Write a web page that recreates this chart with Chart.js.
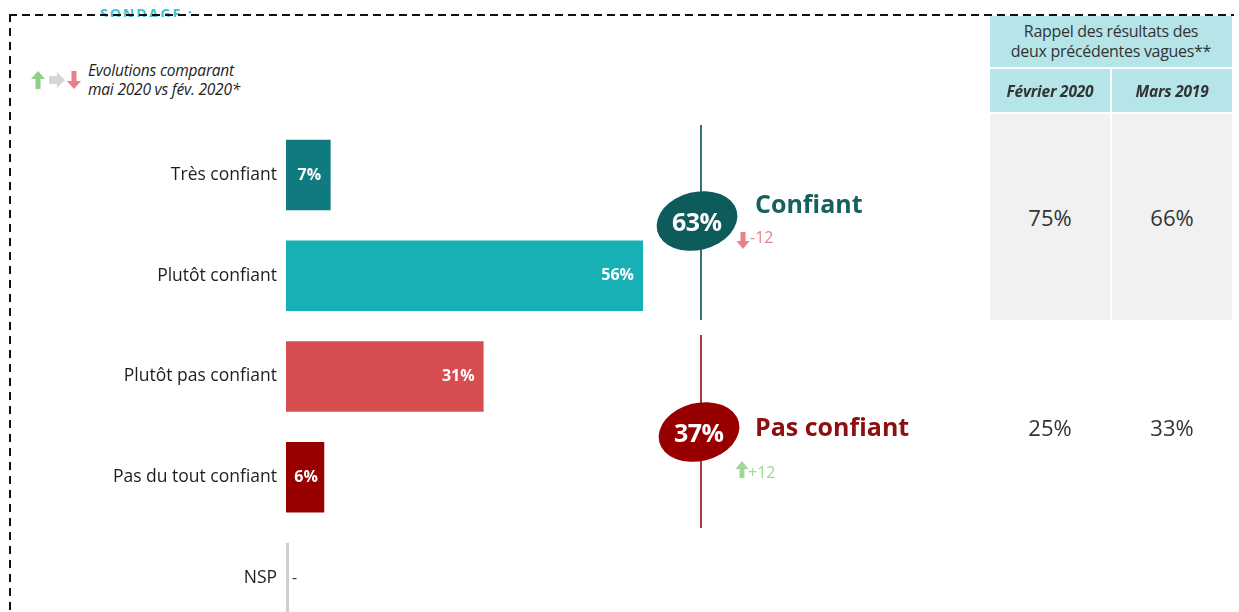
<!DOCTYPE html>
<html lang="fr">
<head>
<meta charset="utf-8">
<script src="https://cdn.jsdelivr.net/npm/chart.js@4.4.0/dist/chart.umd.min.js"></script>
<style>
    html, body { margin: 0; padding: 0; background: #fff; overflow: hidden; }
    body { width: 1239px; height: 612px; position: relative; font-family: 'Open Sans', Arial, sans-serif; color: #222; }
    #contenedor { position: absolute; left: 0; top: 0; width: 1239px; height: 660px; }
    .abs { position: absolute; }
    .borde-top { left: 9px; top: 14px; width: 1225px; height: 2px;
        background: repeating-linear-gradient(90deg, #111 0 8px, transparent 8px 13px); }
    .borde-left { left: 9px; top: 14px; width: 2px; height: 600px;
        background: repeating-linear-gradient(180deg, #111 0 8px, transparent 8px 14px); }
    .leyenda { left: 88px; top: 61px; font-size: 15.5px; font-style: italic; line-height: 19px; color: #1e1e1e; letter-spacing: -0.2px; }
    .linea { width: 2px; left: 700px; }
    .ovalo { width: 82px; height: 58px; border-radius: 50%; transform: rotate(-14deg);
        display: flex; align-items: center; justify-content: center; }
    .ovalo span { transform: rotate(14deg); color: #fff; font-weight: 700; font-size: 25px; letter-spacing: -0.5px; }
    .grupo { font-weight: 700; font-size: 25px; left: 755px; }
    .evol { font-size: 16px; }
    .celda { display: flex; align-items: center; justify-content: center; text-align: center; color: #333; }
    .cab { background: #b5e5e8; }
    .gris { background: #f1f1f1; }
    .num { font-size: 22px; color: #333; }
</style>
</head>
<body>

<!-- ===================== Recuadro punteado ===================== -->
<div class="abs" style="left:100px; top:0; width:120px; height:17px; overflow:hidden;">
    <div style="position:absolute; top:4px; left:0; color:#3cc3cf; font-size:14px; font-weight:700; letter-spacing:2px;">SONDAGE :</div>
</div>
<div class="abs borde-top"></div>
<div class="abs borde-left"></div>

<!-- ===================== Leyenda evoluciones ===================== -->
<svg class="abs" style="left:30px; top:70px;" width="54" height="20" viewBox="0 0 54 20">
    <path d="M8 1 L15 9 L10.5 9 L10.5 19 L5.5 19 L5.5 9 L1 9 Z" fill="#8fcf8a"/>
    <path d="M19 6 L27 6 L27 2 L35 10 L27 18 L27 14 L19 14 Z" fill="#d6d6d6"/>
    <path d="M44 19 L37 11 L41.5 11 L41.5 1 L46.5 1 L46.5 11 L51 11 Z" fill="#e98089"/>
</svg>
<div class="abs leyenda">Evolutions comparant<br>mai 2020 vs fév. 2020*</div>

<!-- ===================== Gráfico de barras ===================== -->
<div id="contenedor"><canvas id="graficoConfianza" width="1239" height="660"></canvas></div>

<!-- ===================== Totales agrupados ===================== -->
<div class="abs linea" style="top:125px; height:195px; background:#2f7777;"></div>
<div class="abs linea" style="top:335px; height:193px; background:#a83a3a;"></div>

<div class="abs ovalo" style="left:656px; top:192px; background:#0e5b5c;"><span id="totalConfiant"></span></div>
<div class="abs grupo" style="top:186px; color:#17605f;">Confiant</div>
<svg class="abs" style="left:736px; top:231px;" width="14" height="19" viewBox="0 0 14 19">
    <path d="M7 18 L0.5 10 L4.5 10 L4.5 1 L9.5 1 L9.5 10 L13.5 10 Z" fill="#e98089"/>
</svg>
<div class="abs evol" id="evolConfiant" style="left:750px; top:226px; color:#e98089;"></div>

<div class="abs ovalo" style="left:658px; top:403px; background:#980000;"><span id="totalPasConfiant"></span></div>
<div class="abs grupo" style="top:409px; color:#8e0f0f;">Pas confiant</div>
<svg class="abs" style="left:735px; top:460px;" width="14" height="19" viewBox="0 0 14 19">
    <path d="M7 1 L13.5 9 L9.5 9 L9.5 18 L4.5 18 L4.5 9 L0.5 9 Z" fill="#9fd69a"/>
</svg>
<div class="abs evol" id="evolPasConfiant" style="left:748px; top:461px; color:#9fd69a;"></div>

<!-- ===================== Tabla de vagas anteriores ===================== -->
<div class="abs celda cab" style="left:990px; top:16px; width:242px; height:49px; padding-bottom:2px; font-size:16px; line-height:20px; letter-spacing:-0.3px;">Rappel des résultats des<br>deux précédentes vagues**</div>
<div class="abs celda cab" id="vague1" style="left:990px; top:69px; width:120px; height:43px; font-size:15.5px; font-weight:700; font-style:italic; letter-spacing:-0.2px;"></div>
<div class="abs celda cab" id="vague2" style="left:1112px; top:69px; width:120px; height:43px; font-size:15.5px; font-weight:700; font-style:italic; letter-spacing:-0.2px;"></div>
<div class="abs celda gris num" id="v1c" style="left:990px; top:114px; width:120px; height:206px;"></div>
<div class="abs celda gris num" id="v2c" style="left:1112px; top:114px; width:120px; height:206px;"></div>
<div class="abs celda num" id="v1p" style="left:990px; top:400px; width:120px; height:54px;"></div>
<div class="abs celda num" id="v2p" style="left:1112px; top:400px; width:120px; height:54px;"></div>

<script>
// ===================================== Datos ==================
var categorias = ["Très confiant", "Plutôt confiant", "Plutôt pas confiant", "Pas du tout confiant", "NSP"];
var valores = [7, 56, 31, 6, 0];
var colores = ["#0f7b80", "#17b0b5", "#d84d50", "#980000", "#cfcfcf"];

var totales = [63, 37];
var evoluciones = ["-12", "+12"];

var vagues = ["Février 2020", "Mars 2019"];
var vagueConfiant = [75, 66];
var vaguePasConfiant = [25, 33];

var FUENTE = "'Open Sans', Arial, sans-serif";


// ===================================== Textos fuera del canvas ==================
document.getElementById("totalConfiant").textContent = totales[0] + "%";
document.getElementById("totalPasConfiant").textContent = totales[1] + "%";
document.getElementById("evolConfiant").textContent = evoluciones[0];
document.getElementById("evolPasConfiant").textContent = evoluciones[1];
document.getElementById("vague1").textContent = vagues[0];
document.getElementById("vague2").textContent = vagues[1];
document.getElementById("v1c").textContent = vagueConfiant[0] + "%";
document.getElementById("v2c").textContent = vagueConfiant[1] + "%";
document.getElementById("v1p").textContent = vaguePasConfiant[0] + "%";
document.getElementById("v2p").textContent = vaguePasConfiant[1] + "%";


// ===================================== Etiquetas dentro de las barras ==================
var pluginEtiquetas = {
    id: "etiquetas",
    afterDatasetsDraw: function (chart) {
        const ctx = chart.ctx;
        const meta = chart.getDatasetMeta(0);
        ctx.save();
        ctx.textBaseline = "middle";
        meta.data.forEach(function (bar, i) {
            const v = valores[i];
            if (v === 0) {
                // NSP: trazo gris vertical + guion
                ctx.fillStyle = colores[i];
                ctx.fillRect(bar.base, bar.y - bar.height / 2, 3, bar.height);
                ctx.fillStyle = "#333";
                ctx.font = "400 16px " + FUENTE;
                ctx.textAlign = "left";
                ctx.fillText("-", bar.base + 6, bar.y);
                return;
            }
            ctx.fillStyle = "#fff";
            ctx.font = "700 16px " + FUENTE;
            if (v < 10) {
                ctx.textAlign = "center";
                ctx.fillText(v + "%", (bar.base + bar.x) / 2 + 1, bar.y);
            } else {
                ctx.textAlign = "right";
                ctx.fillText(v + "%", bar.x - 9, bar.y);
            }
        });
        ctx.restore();
    }
};


// ===================================== Gráfico ==================
var chartConfianza = new Chart(document.getElementById("graficoConfianza"), {
    type: "bar",
    data: {
        labels: categorias,
        datasets: [{
            data: valores,
            backgroundColor: colores,
            categoryPercentage: 1,
            barPercentage: 0.7
        }]
    },
    options: {
        indexAxis: "y",
        responsive: false,
        animation: false,
        layout: { padding: { top: 124.6, bottom: 31.6, left: 0, right: 315.5 } },
        plugins: {
            legend: { display: false },
            tooltip: { enabled: false }
        },
        scales: {
            x: {
                display: false,
                min: 0,
                max: 100
            },
            y: {
                afterFit: function (scale) { scale.width = 286; },
                grid: { display: false, drawTicks: false },
                border: { display: false },
                ticks: {
                    color: "#1e1e1e",
                    padding: 9,
                    font: { family: FUENTE, size: 17.5 }
                }
            }
        }
    },
    plugins: [pluginEtiquetas]
});
</script>
</body>
</html>
